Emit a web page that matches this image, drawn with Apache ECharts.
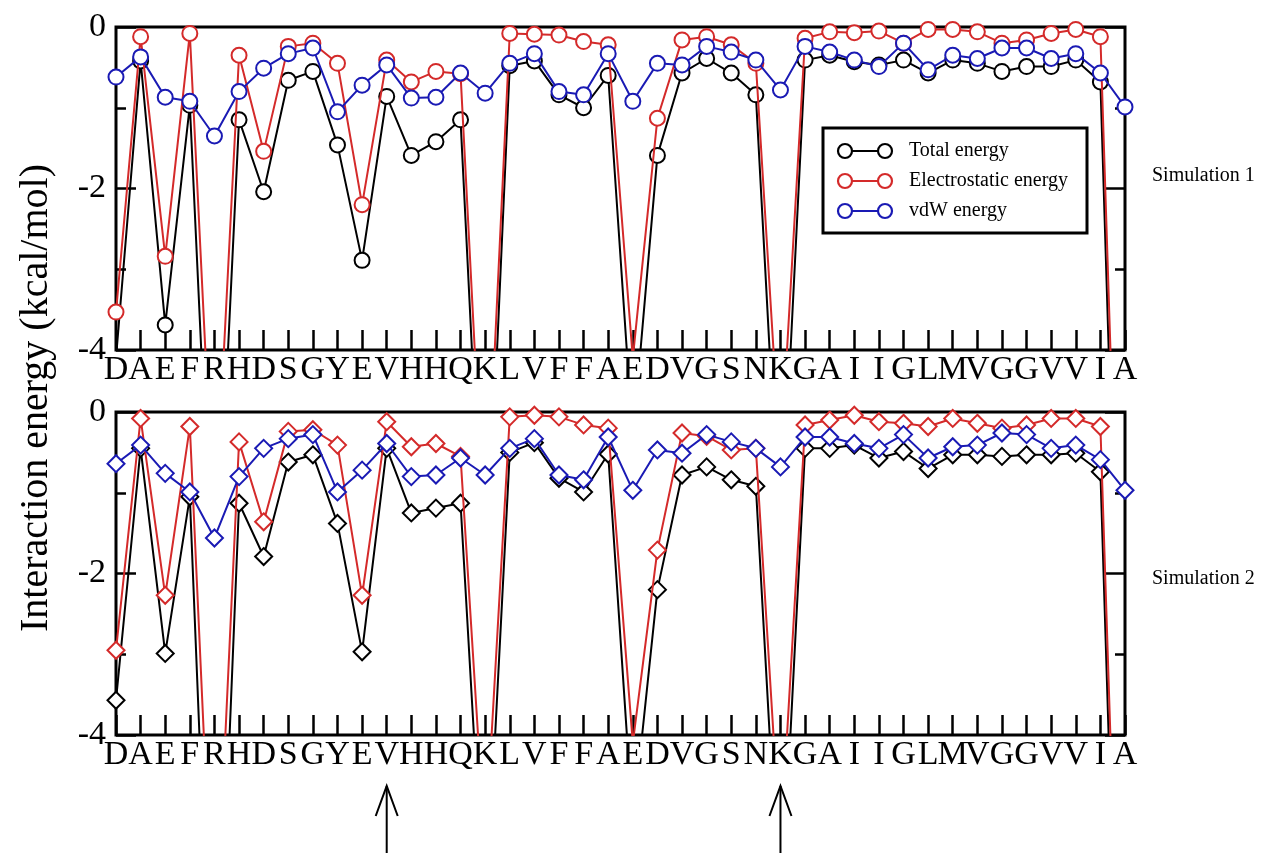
<!DOCTYPE html>
<html><head><meta charset="utf-8">
<script src="https://cdn.jsdelivr.net/npm/echarts@6/dist/echarts.min.js"></script>
<style>html,body{margin:0;padding:0;background:#fff}#c{width:1264px;height:853px}</style>
</head><body><div id="c"></div>
<script>
// Residues (Abeta 1-42)
const residues = ['D','A','E','F','R','H','D','S','G','Y','E','V','H','H','Q','K','L','V','F','F','A','E','D','V','G','S','N','K','G','A','I','I','G','L','M','V','G','G','V','V','I','A'];

// Simulation 1
const total1 = [-4.1,-0.42,-3.69,-0.97,-7.5,-1.15,-2.04,-0.66,-0.55,-1.46,-2.89,-0.86,-1.59,-1.42,-1.15,-7.3,-0.48,-0.42,-0.84,-1.0,-0.6,-5.1,-1.59,-0.57,-0.39,-0.57,-0.84,-6.5,-0.41,-0.35,-0.43,-0.47,-0.41,-0.57,-0.41,-0.45,-0.55,-0.49,-0.49,-0.41,-0.68,-10.5];
const elec1  = [-3.53,-0.12,-2.84,-0.08,-6.3,-0.35,-1.54,-0.24,-0.2,-0.45,-2.2,-0.41,-0.68,-0.55,-0.58,-6.5,-0.08,-0.09,-0.1,-0.18,-0.22,-4.1,-1.13,-0.16,-0.12,-0.22,-0.45,-5.4,-0.14,-0.06,-0.07,-0.05,-0.2,-0.03,-0.03,-0.06,-0.2,-0.16,-0.08,-0.03,-0.12,-9.6];
const vdw1   = [-0.62,-0.37,-0.87,-0.92,-1.35,-0.8,-0.51,-0.33,-0.26,-1.05,-0.72,-0.47,-0.88,-0.87,-0.57,-0.82,-0.45,-0.33,-0.8,-0.84,-0.33,-0.92,-0.45,-0.47,-0.24,-0.31,-0.41,-0.78,-0.24,-0.31,-0.41,-0.49,-0.2,-0.53,-0.35,-0.39,-0.26,-0.26,-0.39,-0.33,-0.57,-0.99];

// Simulation 2
const total2 = [-3.57,-0.45,-2.99,-1.05,-8.6,-1.13,-1.79,-0.62,-0.53,-1.38,-2.97,-0.45,-1.25,-1.19,-1.13,-6.4,-0.5,-0.38,-0.82,-0.99,-0.52,-5.1,-2.2,-0.78,-0.68,-0.84,-0.92,-6.4,-0.45,-0.45,-0.41,-0.57,-0.49,-0.7,-0.53,-0.53,-0.55,-0.53,-0.53,-0.51,-0.74,-10.5];
const elec2  = [-2.95,-0.08,-2.27,-0.18,-6.9,-0.37,-1.36,-0.24,-0.22,-0.41,-2.27,-0.12,-0.43,-0.39,-0.55,-5.4,-0.06,-0.04,-0.06,-0.16,-0.2,-4.1,-1.71,-0.26,-0.3,-0.47,-0.45,-5.4,-0.16,-0.1,-0.04,-0.12,-0.14,-0.18,-0.08,-0.14,-0.2,-0.16,-0.08,-0.08,-0.18,-9.6];
const vdw2   = [-0.64,-0.41,-0.76,-0.99,-1.56,-0.8,-0.45,-0.33,-0.28,-0.99,-0.72,-0.39,-0.8,-0.78,-0.57,-0.78,-0.45,-0.33,-0.78,-0.84,-0.31,-0.97,-0.47,-0.51,-0.28,-0.37,-0.45,-0.68,-0.31,-0.31,-0.39,-0.45,-0.28,-0.57,-0.43,-0.41,-0.26,-0.28,-0.45,-0.41,-0.59,-0.97];

const seriesNames = ['Total energy','Electrostatic energy','vdW energy'];
const panelLabels = ['Simulation 1','Simulation 2'];
const yAxisTitle = 'Interaction energy (kcal/mol)';
const yMin = -4, yMax = 0, yInterval = 2;
const arrowResidueIdx = [11, 27];

const colors = ['#000000', '#d42a2a', '#1a1ab4'];
const FONT = '"Liberation Serif", "Times New Roman", serif';
const panels = [[total1, elec1, vdw1], [total2, elec2, vdw2]];
const symbols = ['emptyCircle', 'emptyDiamond'];
const symSizes = [15, 17];

const chart = echarts.init(document.getElementById('c'));

const grids = [
  {left:116, top:27, width:1009, height:323},
  {left:116, top:412, width:1009, height:323}
].map(g => Object.assign(g, {show:true, borderColor:'#000', borderWidth:3, backgroundColor:'transparent'}));

const tickStyle = {color:'#000', width:2.5};
const xAxes = [], yAxes = [], series = [];
panels.forEach((data, i) => {
  xAxes.push({
    gridIndex:i, type:'category', data:residues, boundaryGap:false, position:'bottom',
    axisLine:{show:false, onZero:false},
    axisTick:{show:true, inside:true, length:20, interval:0, lineStyle:tickStyle},
    axisLabel:{interval:0, fontSize:34, fontFamily:FONT, color:'#000', margin:3},
    splitLine:{show:false}
  });
  ['left','right'].forEach(pos => {
    yAxes.push({
      gridIndex:i, type:'value', min:yMin, max:yMax, interval:yInterval, position:pos,
      axisLine:{show:false, onZero:false},
      axisTick:{show:true, inside:true, length:20, lineStyle:tickStyle},
      minorTick:{show:true, splitNumber:2, length:10, lineStyle:tickStyle},
      axisLabel:{show:pos==='left', fontSize:34, fontFamily:FONT, color:'#000', margin:10},
      splitLine:{show:false}, minorSplitLine:{show:false}
    });
  });
  data.forEach((vals, k) => {
    series.push({
      type:'line', name:seriesNames[k], xAxisIndex:i, yAxisIndex:2*i,
      data:vals, symbol:symbols[i], symbolSize:symSizes[i], showAllSymbol:true,
      clip:true, z:2+k,
      lineStyle:{color:colors[k], width:2},
      itemStyle:{color:colors[k], borderColor:colors[k], borderWidth:2.2},
      emphasis:{disabled:true}
    });
  });
});

chart.setOption({
  animation:false,
  backgroundColor:'#fff',
  grid:grids, xAxis:xAxes, yAxis:yAxes, series:series
});

// Decorations: axis title, panel labels, legend box, arrows
const graphics = [];
graphics.push({type:'text', x:36, y:398, rotation:Math.PI/2,
  style:{text:yAxisTitle, font:'40px ' + FONT, fill:'#000', align:'center', verticalAlign:'middle'}});
panelLabels.forEach((t, i) => {
  graphics.push({type:'text', x:1152, y:[176,579][i],
    style:{text:t, font:'20px ' + FONT, fill:'#000', align:'left', verticalAlign:'middle'}});
});
graphics.push({type:'rect', shape:{x:823, y:128, width:264, height:105},
  style:{fill:'#fff', stroke:'#000', lineWidth:3}, z:50});
seriesNames.forEach((n, k) => {
  const yy = 151 + 30*k;
  graphics.push({type:'line', shape:{x1:845, y1:yy, x2:885, y2:yy}, style:{stroke:colors[k], lineWidth:2}, z:51});
  [845, 885].forEach(cx => graphics.push({type:'circle', shape:{cx:cx, cy:yy, r:7},
    style:{fill:'#fff', stroke:colors[k], lineWidth:2.2}, z:52}));
  graphics.push({type:'text', x:909, y:yy, z:52,
    style:{text:n, font:'20px ' + FONT, fill:'#000', align:'left', verticalAlign:'middle'}});
});
arrowResidueIdx.forEach(idx => {
  const px = chart.convertToPixel({xAxisIndex:1}, idx);
  graphics.push({type:'polyline', shape:{points:[[px, 853],[px, 786]]}, style:{stroke:'#000', lineWidth:2, fill:null}});
  graphics.push({type:'polyline', shape:{points:[[px-11, 816],[px, 786],[px+11, 816]]}, style:{stroke:'#000', lineWidth:2, fill:null}});
});
chart.setOption({graphic:graphics});
</script>
</body></html>
